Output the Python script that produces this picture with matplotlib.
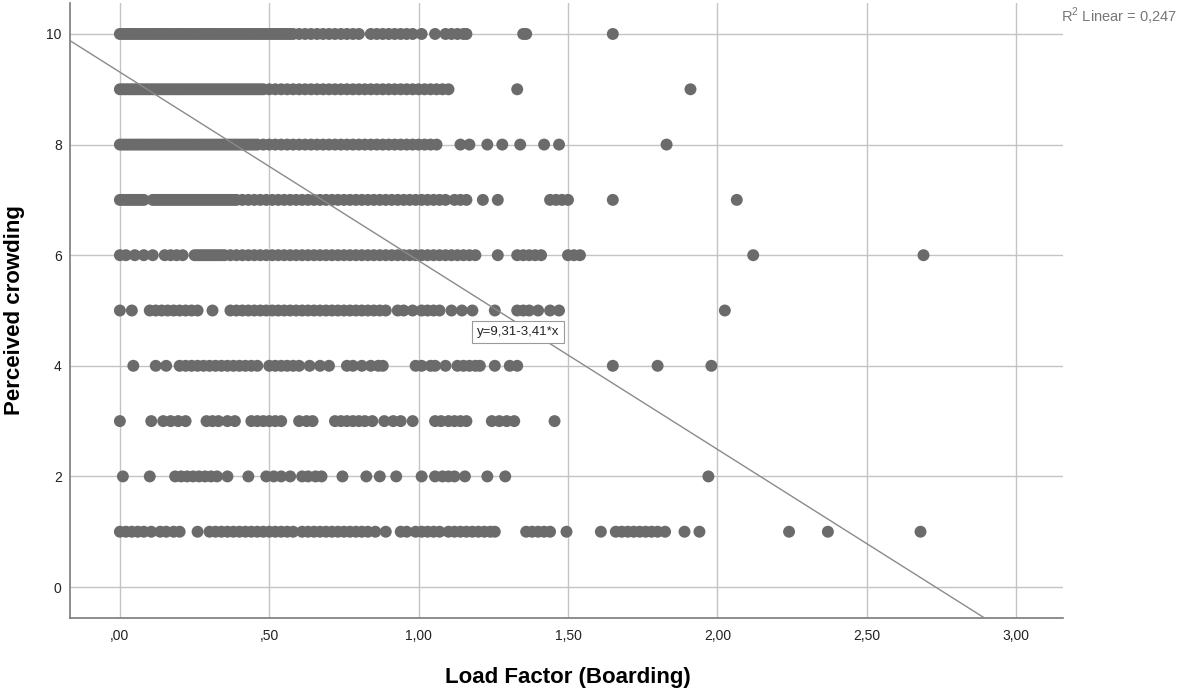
import matplotlib
matplotlib.use("Agg")
import matplotlib.pyplot as plt
import numpy as np

# ---- data: load factor values per perceived-crowding level ----
row10 = [0.00,0.01,0.02,0.03,0.04,0.05,0.06,0.07,0.08,0.09,0.10,0.11,0.12,0.13,0.14,0.15,
         0.16,0.17,0.18,0.19,0.20,0.21,0.22,0.23,0.24,0.25,0.26,0.27,0.28,0.29,0.30,0.31,
         0.32,0.33,0.34,0.35,0.36,0.37,0.38,0.39,0.40,0.41,0.42,0.43,0.44,0.45,0.46,0.47,
         0.48,0.49,0.50,0.51,0.52,0.53,0.54,0.55,0.56,0.57,0.58,0.60,0.62,
         0.64,0.66,0.68,0.70,0.72,0.74,0.76,0.78,0.80,0.84,0.86,0.88,0.90,0.92,0.94,0.96,
         0.98,1.01,1.055,1.09,1.11,1.13,1.15,1.16,1.35,1.36,1.65]
row9 = [0.00,0.01,0.02,0.03,0.04,0.05,0.06,0.07,0.08,0.09,0.10,0.11,0.12,0.13,0.14,0.15,
        0.16,0.17,0.18,0.19,0.20,0.21,0.22,0.23,0.24,0.25,0.26,0.27,0.28,0.29,0.30,0.31,
        0.32,0.33,0.34,0.35,0.36,0.37,0.38,0.39,0.40,0.41,0.42,0.43,0.44,0.45,0.46,0.47,
        0.48,0.50,0.52,0.54,0.56,0.58,0.60,0.62,
        0.64,0.66,0.68,0.70,0.72,0.74,0.76,0.78,0.80,0.82,0.84,0.86,0.88,0.90,0.92,0.94,
        0.96,0.98,1.00,1.02,1.04,1.06,1.08,1.10,1.33,1.91]
row8 = [0.00,0.01,0.02,0.03,0.04,0.05,0.06,0.07,0.08,0.09,0.10,0.11,0.12,0.13,0.14,0.15,
        0.16,0.17,0.18,0.19,0.20,0.21,0.22,0.23,0.24,0.25,0.26,0.27,0.28,0.29,0.30,0.31,
        0.32,0.33,0.34,0.35,0.36,0.37,0.38,0.39,0.40,0.41,0.42,0.43,0.44,0.45,0.46,0.48,
        0.50,0.52,0.54,0.56,0.58,0.60,0.62,
        0.64,0.66,0.68,0.70,0.72,0.74,0.76,0.78,0.80,0.82,0.84,0.86,0.88,0.90,0.92,0.94,
        0.96,0.98,1.00,1.02,1.04,1.06,1.14,1.17,1.23,1.28,1.34,1.42,1.47,1.83]
row7 = [0.00,0.01,0.02,0.03,0.04,0.05,0.06,0.07,0.08,0.11,0.12,0.13,0.14,0.15,0.16,0.17,
        0.18,0.19,0.20,0.21,0.22,0.23,0.24,0.25,0.26,0.27,0.28,0.29,0.30,0.31,
        0.32,0.33,0.34,0.35,0.36,0.37,0.38,0.39,0.41,0.43,0.45,0.47,0.49,0.51,0.53,0.55,
        0.57,0.59,0.61,0.63,
        0.65,0.67,0.69,0.71,0.73,0.75,0.77,0.79,0.81,0.83,0.85,0.87,0.89,0.91,0.93,0.95,
        0.97,0.99,1.01,1.03,1.05,1.07,1.09,1.12,1.14,1.16,1.215,1.265,1.44,1.46,1.48,1.50,
        1.65,2.065]
row6 = [0.00,0.02,0.05,0.08,0.11,0.15,0.17,0.19,0.21,0.25,0.26,0.27,0.28,0.29,0.30,0.31,
        0.32,0.33,0.34,0.35,0.37,
        0.39,0.41,0.43,0.45,0.47,0.49,0.51,0.53,0.55,0.57,0.59,0.61,0.63,0.65,0.67,0.69,
        0.71,0.73,0.75,0.77,0.79,0.81,0.83,0.85,0.87,0.89,0.91,0.93,0.95,0.97,0.99,1.01,
        1.03,1.05,1.07,1.09,1.11,1.13,1.15,1.17,1.19,1.265,1.33,1.35,1.37,1.39,1.41,1.50,
        1.52,1.54,2.12,2.69]
row5 = [0.00,0.04,0.10,0.12,0.14,0.16,0.18,0.20,0.22,0.24,0.26,0.31,0.37,0.39,0.41,0.43,
        0.45,0.47,0.49,0.51,0.53,0.55,0.57,0.59,0.61,0.63,0.65,0.67,0.69,0.71,0.73,0.75,
        0.77,0.79,0.81,0.83,0.85,0.87,0.89,0.93,0.95,0.98,1.01,1.03,1.05,1.07,1.11,1.145,
        1.18,1.255,1.33,1.35,1.37,1.40,1.44,1.47,2.025]
row4 = [0.045,0.12,0.155,0.20,0.22,0.24,0.26,0.28,0.30,0.32,0.34,0.36,0.38,0.40,0.42,0.44,
        0.46,0.50,0.52,0.54,0.56,0.58,0.60,0.635,0.67,0.70,0.76,0.78,0.81,0.84,0.865,0.88,
        0.99,1.01,1.04,1.055,1.09,1.13,1.15,1.17,1.19,1.205,1.255,1.305,1.33,1.65,1.80,1.98]
row3 = [0.00,0.105,0.145,0.17,0.195,0.22,0.29,0.31,0.33,0.36,0.385,0.44,0.46,0.48,0.50,0.52,
        0.54,0.60,0.625,0.645,0.72,0.74,0.76,0.78,0.80,0.82,0.845,0.885,0.915,0.94,0.98,1.055,
        1.075,1.10,1.12,1.14,1.16,1.245,1.27,1.295,1.32,1.455]
row2 = [0.01,0.10,0.185,0.205,0.225,0.245,0.265,0.285,0.305,0.325,0.36,0.43,0.49,0.515,0.54,
        0.57,0.61,0.63,0.655,0.675,0.745,0.825,0.87,0.925,1.01,1.055,1.08,1.10,1.12,1.155,
        1.23,1.29,1.97]
row1 = [0.00,0.02,0.04,0.06,0.08,0.105,0.135,0.155,0.18,0.20,0.26,0.30,0.32,0.34,0.36,0.38,
        0.40,0.42,0.44,0.46,0.48,0.50,0.52,0.54,0.56,0.58,0.61,0.63,0.65,0.67,0.69,0.71,
        0.73,0.75,0.77,0.79,0.81,0.83,0.855,0.89,0.94,0.96,0.99,1.01,1.03,1.05,1.07,1.10,
        1.12,1.14,1.16,1.18,1.20,1.22,1.24,1.255,1.36,1.38,1.40,1.42,1.44,1.495,1.61,1.66,
        1.68,1.70,1.72,1.74,1.76,1.78,1.80,1.825,1.89,1.94,2.24,2.37,2.68]

rows = {10: row10, 9: row9, 8: row8, 7: row7, 6: row6, 5: row5,
        4: row4, 3: row3, 2: row2, 1: row1}

intercept = 9.31
slope = -3.41
r2_text = "R$^2$ Linear = 0,247"
eq_text = "y=9,31-3,41*x"

x_ticks = [0.0, 0.5, 1.0, 1.5, 2.0, 2.5, 3.0]
x_labels = [",00", ",50", "1,00", "1,50", "2,00", "2,50", "3,00"]
y_ticks = [0, 2, 4, 6, 8, 10]

# ---- figure ----
plt.rcParams['font.family'] = ['Liberation Sans', 'DejaVu Sans']
plt.rcParams['mathtext.fontset'] = 'custom'
plt.rcParams['mathtext.rm'] = 'Liberation Sans'
fig = plt.figure(figsize=(11.88, 6.89), dpi=100)
ax = fig.add_axes([70/1188, (689-618)/689, (1063-70)/1188, (618-3)/689])

xs, ys = [], []
for level, vals in rows.items():
    xs.extend(vals)
    ys.extend([level] * len(vals))

ax.scatter(xs, ys, s=74, color="#6b6b6b", edgecolors="none", zorder=3)

xmin, xmax = -0.167, 3.157
ymin, ymax = -0.56, 10.56
ax.set_xlim(xmin, xmax)
ax.set_ylim(ymin, ymax)

lx = np.array([xmin, xmax])
ax.plot(lx, intercept + slope * lx, color="#8a8a8a", lw=1.0, zorder=4)

ax.set_xticks(x_ticks)
ax.set_xticklabels(x_labels)
ax.set_yticks(y_ticks)
ax.grid(True, color="#c4c4c4", lw=1.0, zorder=0)
ax.set_axisbelow(True)
ax.tick_params(length=0, labelsize=10, colors="#222222")
ax.tick_params(axis="x", pad=8)
ax.tick_params(axis="y", pad=6)
for side in ["top", "right"]:
    ax.spines[side].set_visible(False)
for side in ["left", "bottom"]:
    ax.spines[side].set_color("#7a7a7a")
    ax.spines[side].set_linewidth(1.2)

ax.set_xlabel("Load Factor (Boarding)", fontsize=16, fontweight="bold")
ax.set_ylabel("Perceived crowding", fontsize=16, fontweight="bold")
ax.xaxis.set_label_coords((568-70)/993, (618-677)/615)
ax.xaxis.label.set_va("center")
ax.yaxis.set_label_coords((15-70)/993, (618-310)/615)
ax.yaxis.label.set_va("center")

ax.text(1.195, 4.61, eq_text, fontsize=9.5, color="#222222", ha="left", va="center",
        bbox=dict(boxstyle="square,pad=0.35", fc="white", ec="#9a9a9a", lw=0.8), zorder=5)

fig.text(1061/1188, 1 - 16/689, r2_text, fontsize=10.5, color="#777777", ha="left", va="center")

fig.savefig("out.png", dpi=100)
